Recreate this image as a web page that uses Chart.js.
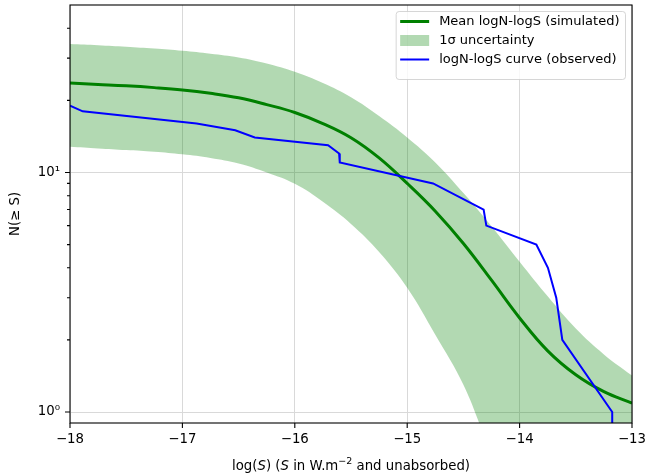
<!DOCTYPE html>
<html>
<head>
<meta charset="utf-8">
<script src="https://cdn.jsdelivr.net/npm/chart.js@4.4.1/dist/chart.umd.min.js"></script>
<style>
    html, body { margin: 0; padding: 0; background: #fff; }
    #wrap { width: 649px; height: 476px; }
</style>
</head>
<body>
<div id="wrap"><canvas id="myChart" width="649" height="476"></canvas></div>
<script>
// simulated logN-logS: mean and 1 sigma envelope, on a common log(S) grid
const gridLogS = [-18, -17.75, -17.5, -17.25, -17, -16.75, -16.5, -16.25, -16, -15.75, -15.5,
                  -15.25, -15, -14.75, -14.5, -14.25, -14, -13.75, -13.5, -13.25, -13];
const meanN    = [23.6, 23.3, 23.0, 22.6, 22.1, 21.4, 20.5, 19.2, 17.8, 16.0, 13.96,
                  11.5, 9.0, 6.89, 5.05, 3.55, 2.47, 1.80, 1.43, 1.216, 1.089];
const upperN   = [34.4, 34.0, 33.5, 32.9, 32.2, 31.3, 30.2, 28.5, 26.3, 23.6, 20.6,
                  17.2, 14.0, 11.0, 8.2, 5.96, 4.24, 3.04, 2.23, 1.74, 1.42];
const lowerN   = [12.8, 12.6, 12.4, 12.2, 11.9, 11.5, 10.9, 10.0, 8.97, 7.55, 6.1,
                  4.66, 3.3, 2.1, 1.3, 0.68, 0.42, 0.32, 0.28, 0.28, 0.3];

// observed cumulative counts
const obsLogS = [-18.0, -17.887, -16.874, -16.53, -16.356, -15.704, -15.606, -15.6, -14.77, -14.32, -14.296, -13.851, -13.748, -13.674, -13.62, -13.176, -13.176];
const obsN    = [19, 18, 16, 15, 14, 13, 12, 11, 9, 7, 6, 5, 4, 3, 2, 1, 0.5];

// axis ticks
const xTicks = [-18, -17, -16, -15, -14, -13];
const yTicks = [1, 2, 3, 4, 5, 6, 7, 8, 9, 10, 20, 30, 40];
const yMajor = [1, 10];
const yLabels = {1: '10\u2070', 10: '10\u00b9'};

// legend rows, top to bottom
const legendOrder = ['mean', 'band', 'observed'];

const FONT = 'DejaVu Sans';
const SMOOTH = 0.4;

function pts(xs, ys) {
    return xs.map((v, i) => ({x: v, y: ys[i]}));
}

function minus(v) {
    return v < 0 ? '\u2212' + Math.abs(v) : String(v);
}

// no extra room for edge labels, the layout padding fixes the plot box
function noEdgePadding(scale) {
    scale.paddingTop = 0;
    scale.paddingBottom = 0;
    scale.paddingLeft = 0;
    scale.paddingRight = 0;
}

// frame, tick marks, axis titles and the legend box
const decorations = {
    id: 'decorations',
    afterDatasetsDraw(chart) {
        const ctx = chart.ctx;
        const a = chart.chartArea;
        const xs = chart.scales.x, ys = chart.scales.y;
        ctx.save();
        ctx.strokeStyle = '#000';
        ctx.lineWidth = 1.1;
        ctx.beginPath();
        xTicks.forEach(v => {
            const px = xs.getPixelForValue(v);
            ctx.moveTo(px, a.bottom);
            ctx.lineTo(px, a.bottom + 5);
        });
        yTicks.forEach(v => {
            const py = ys.getPixelForValue(v);
            const len = yMajor.includes(v) ? 5 : 3;
            ctx.moveTo(a.left - len, py);
            ctx.lineTo(a.left, py);
        });
        ctx.stroke();
        ctx.strokeRect(a.left, a.top, a.right - a.left, a.bottom - a.top);

        // y title
        ctx.fillStyle = '#000';
        ctx.font = '13.3px "' + FONT + '"';
        ctx.textAlign = 'center';
        ctx.textBaseline = 'middle';
        ctx.save();
        ctx.translate(16, (a.top + a.bottom) / 2);
        ctx.rotate(-Math.PI / 2);
        ctx.fillText('N(\u2265 S)', 0, 0);
        ctx.restore();

        // x title with italic S and a superscript
        const parts = [
            {t: 'log(', f: ''}, {t: 'S', f: 'italic '}, {t: ') (', f: ''}, {t: 'S', f: 'italic '},
            {t: ' in W.m', f: ''}, {t: '\u22122', f: '', sup: true}, {t: ' and unabsorbed)', f: ''}
        ];
        const fontOf = p => p.f + (p.sup ? '9.5px' : '13.3px') + ' "' + FONT + '"';
        let total = 0;
        parts.forEach(p => { ctx.font = fontOf(p); p.w = ctx.measureText(p.t).width; total += p.w; });
        let cx = (a.left + a.right) / 2 - total / 2;
        const base = 470;
        ctx.textAlign = 'left';
        ctx.textBaseline = 'alphabetic';
        parts.forEach(p => {
            ctx.font = fontOf(p);
            ctx.fillText(p.t, cx, p.sup ? base - 6 : base);
            cx += p.w;
        });

        // legend
        const items = legendOrder.map(k => chart.data.datasets.find(d => d.key === k));
        ctx.font = '13px "' + FONT + '"';
        let maxW = 0;
        items.forEach(d => { maxW = Math.max(maxW, ctx.measureText(d.legendText).width); });
        const right = a.right - 6.5, top = a.top + 6.5;
        const left = right - (4 + 30 + 9 + maxW + 6);
        const rowH = 19;
        ctx.beginPath();
        ctx.roundRect(left, top, right - left, 8 + rowH * items.length + 3, 3);
        ctx.fillStyle = 'rgba(255,255,255,0.8)';
        ctx.fill();
        ctx.strokeStyle = 'rgba(204,204,204,0.8)';
        ctx.lineWidth = 1;
        ctx.stroke();
        items.forEach((d, i) => {
            const cy = top + 10 + rowH * i;
            const hx = left + 4;
            if (d.key === 'band') {
                ctx.fillStyle = d.backgroundColor;
                ctx.fillRect(hx, cy - 5.5, 29, 11);
            } else {
                ctx.strokeStyle = d.borderColor;
                ctx.lineWidth = d.borderWidth;
                ctx.beginPath();
                ctx.moveTo(hx, cy);
                ctx.lineTo(hx + 29, cy);
                ctx.stroke();
            }
            ctx.fillStyle = '#000';
            ctx.textBaseline = 'middle';
            ctx.fillText(d.legendText, hx + 39, cy);
        });
        ctx.restore();
    }
};

const myChart = new Chart(document.getElementById('myChart'), {
    type: 'line',
    data: {
        datasets: [
            {
                key: 'band',
                label: 'upper',
                legendText: '1\u03c3 uncertainty',
                data: pts(gridLogS, upperN),
                borderWidth: 0,
                borderColor: 'rgba(0,0,0,0)',
                backgroundColor: 'rgba(0,128,0,0.3)',
                fill: '+1',
                pointRadius: 0,
                tension: SMOOTH,
                order: 3
            },
            {
                key: 'lower',
                label: 'lower',
                data: pts(gridLogS, lowerN),
                borderWidth: 0,
                borderColor: 'rgba(0,0,0,0)',
                fill: false,
                pointRadius: 0,
                tension: SMOOTH,
                order: 3
            },
            {
                key: 'mean',
                label: 'mean',
                legendText: 'Mean logN-logS (simulated)',
                data: pts(gridLogS, meanN),
                borderColor: '#008000',
                borderWidth: 3,
                fill: false,
                pointRadius: 0,
                tension: SMOOTH,
                order: 2
            },
            {
                key: 'observed',
                label: 'observed',
                legendText: 'logN-logS curve (observed)',
                data: pts(obsLogS, obsN),
                borderColor: '#0000ff',
                borderWidth: 2,
                fill: false,
                pointRadius: 0,
                tension: 0,
                order: 1
            }
        ]
    },
    options: {
        responsive: false,
        animation: false,
        layout: {padding: {top: 5, right: 17, left: 0, bottom: 0}},
        plugins: {
            legend: {display: false},
            tooltip: {enabled: false}
        },
        scales: {
            x: {
                type: 'linear',
                min: -18,
                max: -13,
                afterBuildTicks: scale => { scale.ticks = xTicks.map(v => ({value: v})); },
                afterFit: scale => { scale.height = 53; noEdgePadding(scale); },
                grid: {color: '#d9d9d9', lineWidth: 1, drawTicks: false},
                border: {display: false},
                ticks: {
                    padding: 9,
                    color: '#000',
                    font: {family: FONT, size: 13.3},
                    maxRotation: 0,
                    autoSkip: false,
                    callback: v => minus(v)
                }
            },
            y: {
                type: 'logarithmic',
                min: 0.9,
                max: 50,
                afterBuildTicks: scale => { scale.ticks = yTicks.map(v => ({value: v})); },
                afterFit: scale => { scale.width = 70; noEdgePadding(scale); },
                grid: {
                    color: c => (c.tick && yMajor.includes(c.tick.value)) ? '#d9d9d9' : 'rgba(0,0,0,0)',
                    lineWidth: 1,
                    drawTicks: false
                },
                border: {display: false},
                ticks: {
                    padding: 10,
                    color: '#000',
                    font: {family: FONT, size: 13.3},
                    autoSkip: false,
                    callback: v => yLabels[v] || ''
                }
            }
        }
    },
    plugins: [decorations]
});
</script>
</body>
</html>
